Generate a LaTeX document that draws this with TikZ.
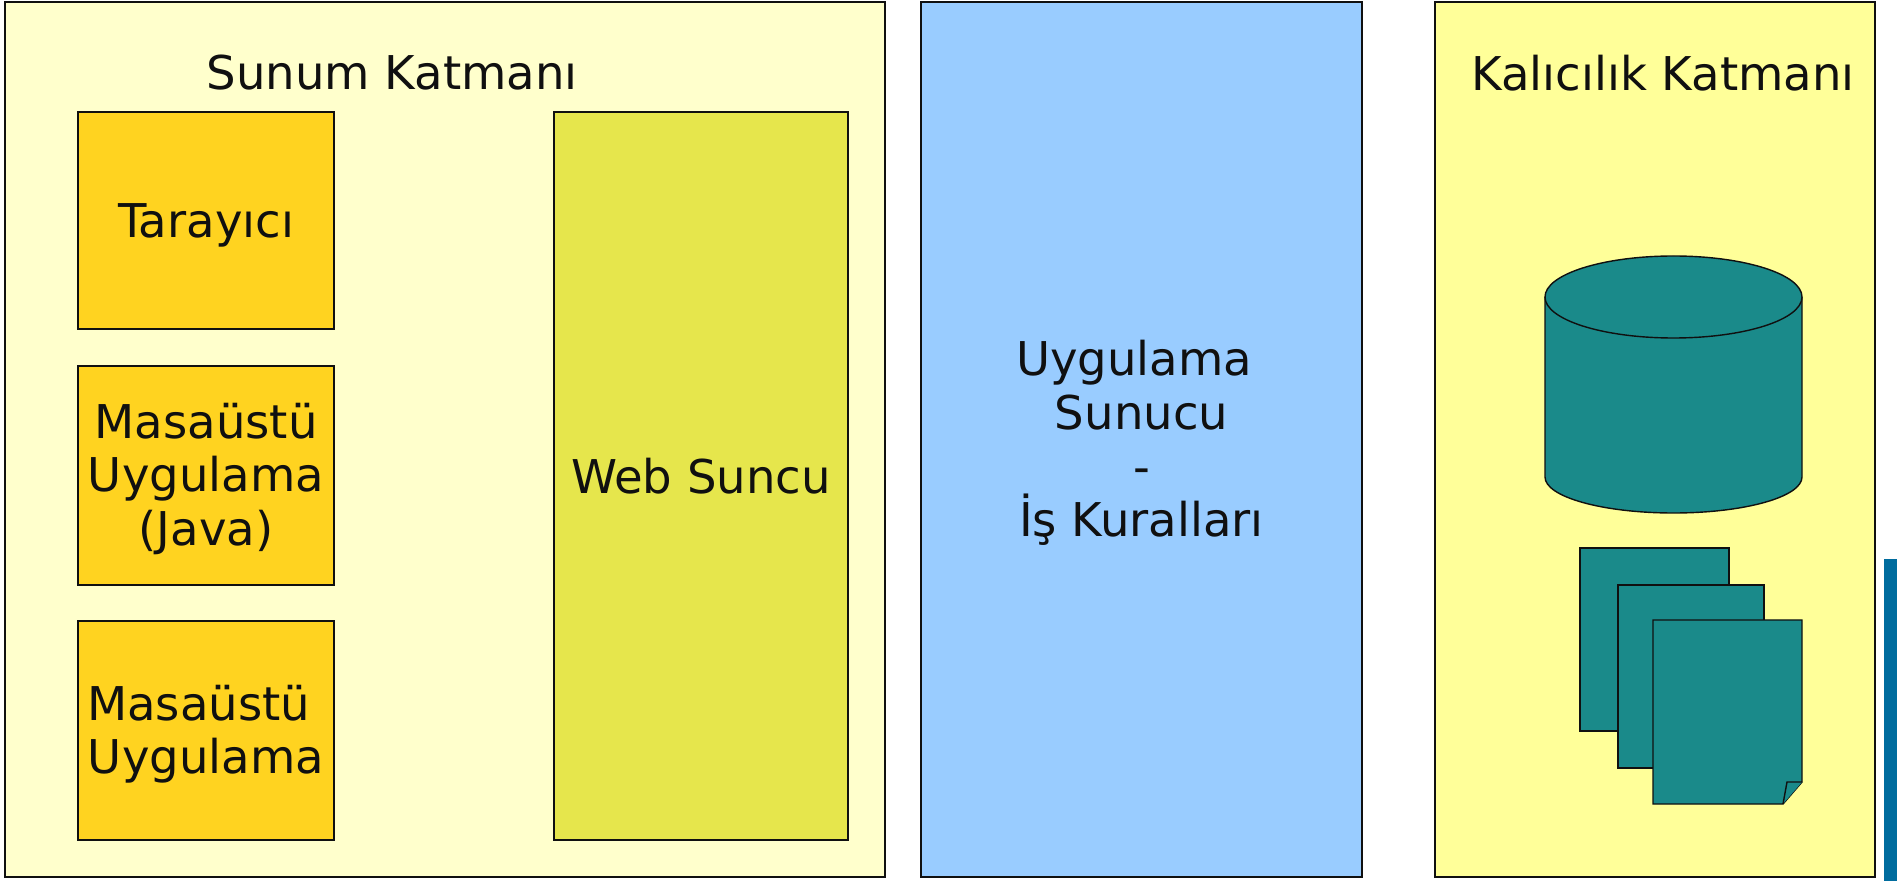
\documentclass[tikz,border=0pt]{standalone}
\usepackage{fontspec}
\setmainfont{DejaVu Sans}
\definecolor{katman}{HTML}{FFFFCC}
\definecolor{turuncu}{HTML}{FFD320}
\definecolor{zeytin}{HTML}{E6E64C}
\definecolor{mavi}{HTML}{99CCFF}
\definecolor{sari}{HTML}{FFFF99}
\definecolor{camgobegi}{HTML}{1A8A8A}
\definecolor{kenar}{HTML}{101010}
\definecolor{koyumavi}{HTML}{006C9E}
\tikzset{
    alan/.style={draw=kenar, line width=0.8pt},
    yazi/.style={text=kenar, align=center, font=\fontsize{26.5}{30.5}\selectfont},
    disk/.style={draw=kenar, line width=0.8pt, fill=camgobegi}
}

\begin{document}
\begin{tikzpicture}[x=0.02cm, y=-0.02cm]
    \useasboundingbox (0,0) rectangle (1897,881);
    % katmanlar
    \draw[alan, fill=katman] (5,2) rectangle (885,877);
    \draw[alan, fill=mavi] (921,2) rectangle (1362,877) node[midway, yazi, yshift=-2pt] (sunucu) {Uygulama~\mbox{}\\Sunucu\\-\\İş Kuralları};
    \draw[alan, fill=sari] (1435,2) rectangle (1875,877);
    \fill[koyumavi] (1884,559) rectangle (1897,881);
    \node[yazi] (sunum) at (392,73) {Sunum Katmanı};
    \node[yazi] (kalicilik) at (1663,73) {Kalıcılık Katmanı};
    % kutular
    \draw[alan, fill=turuncu] (78,112) rectangle (334,329) node[midway, yazi, yshift=-2.5pt] (tarayici) {Tarayıcı};
    \draw[alan, fill=turuncu] (78,366) rectangle (334,585) node[midway, yazi, yshift=-2pt] (java) {Masaüstü\\Uygulama\\(Java)};
    \draw[alan, fill=turuncu] (78,621) rectangle (334,840) node[midway, yazi, yshift=-2pt] (masaustu) {Masaüstü~\mbox{}\\Uygulama};
    \draw[alan, fill=zeytin] (554,112) rectangle (848,840) node[midway, yazi] (web) {Web Suncu};
    % veritabani
    \draw[disk] (1545,297) -- (1545,477) arc[start angle=180, end angle=0, x radius=128.5, y radius=36] -- (1802,297);
    \draw[disk] (1673.5,297) ellipse [x radius=128.5, y radius=41];
    % belgeler
    \foreach \x/\y/\w in {1580/548/149, 1618/585/146}
    \draw[disk] (\x,\y) rectangle +(\w,183);
    \draw[disk] (1653,620) -- (1802,620) -- (1802,782) -- (1783,804) -- (1653,804) -- cycle;
    \draw[disk] (1802,782) -- (1787,782) -- (1783,804);
\end{tikzpicture}
\end{document}
